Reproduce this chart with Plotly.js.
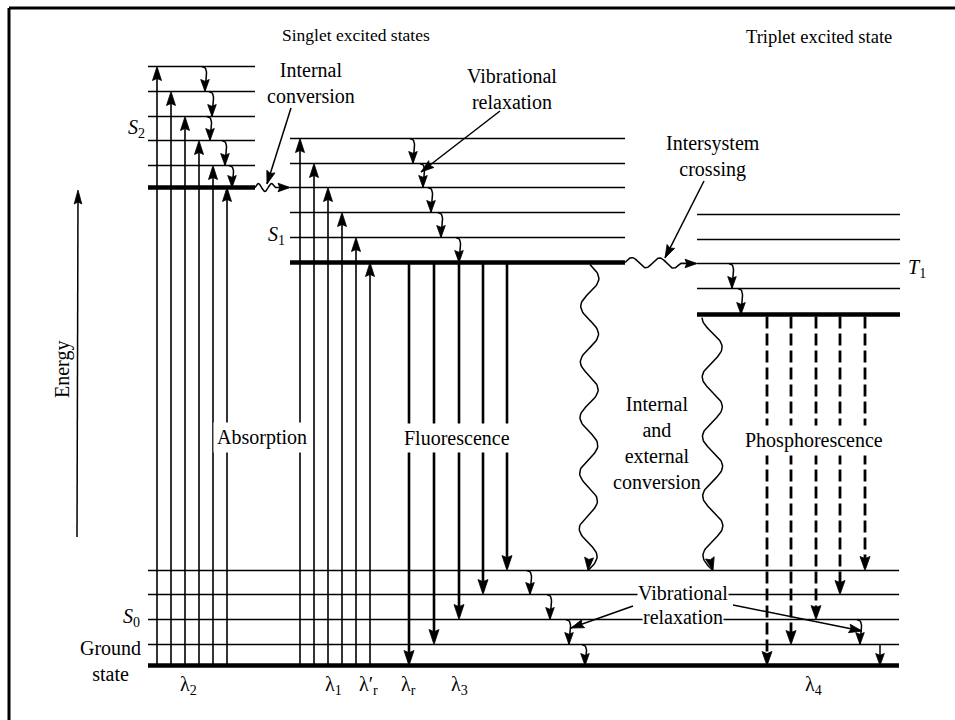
<!DOCTYPE html>
<html><head><meta charset="utf-8">
<script src="https://cdn.plot.ly/plotly-3.0.1.min.js"></script>
<style>html,body{margin:0;padding:0;background:#fff}#chart{width:955px;height:720px}</style>
</head><body><div id="chart"></div>
<script>
// ---------- DATA (relative energy, ground state = 0; x = horizontal position) ----------
const s0Levels = [0, 21, 46, 71, 95];
const s1Levels = [403, 428, 453, 478, 502, 527];
const s2Levels = [478, 500, 525, 549, 574, 599];
const t1Levels = [351, 377, 402, 426, 451];
const s0Span = [148, 899];
const s1Span = [290, 625];
const s2Span = [148, 255];
const t1Span = [697, 900];

// absorption (ground -> excited)
const absS2X  = [157, 171, 185, 199, 213, 227];
const absS2To = [599, 574, 549, 525, 500, 478];
const absS1X  = [300, 314, 328, 342, 356, 370];
const absS1To = [527, 502, 478, 453, 428, 403];
// fluorescence (S1 lowest -> S0 levels)
const fluoX  = [409, 434, 459, 483, 507];
const fluoTo = [0, 21, 46, 71, 95];
// phosphorescence (T1 lowest -> S0 levels)
const phosX  = [767, 791, 816, 840, 865];
const phosTo = [0, 21, 46, 71, 95];
// vibrational relaxation steps
const vrX    = [205, 212, 210, 225, 232, 413, 423, 431, 441, 459, 732, 741, 530, 550, 569, 585, 860];
const vrFrom = [599, 574, 549, 525, 500, 527, 502, 478, 453, 428, 402, 377, 95, 71, 46, 21, 46];
const vrTo   = [574, 549, 525, 500, 478, 502, 478, 453, 428, 403, 377, 351, 71, 46, 21, 0, 21];
const vrStraightX = [880];
const vrStraightFrom = [21];
const vrStraightTo = [0];

// labels
const lambdaLabels = ['λ<sub>2</sub>', 'λ<sub>1</sub>', 'λ′<sub>r</sub>', 'λ<sub>r</sub>', 'λ<sub>3</sub>', 'λ<sub>4</sub>'];
const lambdaX = [188, 333, 368, 408, 459, 813];

// ---------- helpers ----------
const FONT = 'Liberation Serif, Times New Roman, serif';
function pushSeg(arr, pts){ pts.forEach(p=>{arr.x.push(p[0]); arr.y.push(p[1]);}); arr.x.push(null); arr.y.push(null); }
function head(arr, tip, from, len, half){
  let dx = tip[0]-from[0], dy = tip[1]-from[1];
  const L = Math.hypot(dx,dy); dx/=L; dy/=L;
  const px = -dy, py = dx;
  const bx = tip[0]-dx*len, by = tip[1]-dy*len;
  const nx = tip[0]-dx*len*0.85, ny = tip[1]-dy*len*0.85;
  pushSeg(arr, [tip, [bx+px*half, by+py*half], [nx,ny], [bx-px*half, by-py*half], tip]);
}
function wave(p0, p1, amp, periods, waveFrac, phaseCos){
  const pts = []; const dx = p1[0]-p0[0], dy = p1[1]-p0[1];
  const L = Math.hypot(dx,dy); const ux = dx/L, uy = dy/L; const px = -uy, py = ux;
  const N = 200;
  for(let i=0;i<=N;i++){
    const t = i/N;
    let off = 0;
    if(t <= waveFrac){
      const s = t/waveFrac;
      off = phaseCos ? -amp*Math.cos(2*Math.PI*periods*s) : amp*Math.sin(2*Math.PI*periods*s);
    }
    pts.push([p0[0]+dx*t+px*off, p0[1]+dy*t+py*off]);
  }
  return pts;
}
function hook(x, top, bottom){
  const P0=[x-3, top], P1=[x+4, top-1], P2=[x+1, top-9], P3=[x, bottom];
  const pts=[];
  for(let i=0;i<=16;i++){
    const t=i/16, a=(1-t)**3, b=3*(1-t)**2*t, c=3*(1-t)*t*t, d=t**3;
    pts.push([a*P0[0]+b*P1[0]+c*P2[0]+d*P3[0], a*P0[1]+b*P1[1]+c*P2[1]+d*P3[1]]);
  }
  return pts;
}

// ---------- build traces ----------
const thin = {x:[],y:[]}, thick = {x:[],y:[]};
function levels(arr, span){
  arr.forEach((e,i)=>{ pushSeg(i===0?thick:thin, [[span[0],e],[span[1],e]]); });
}
levels(s0Levels, s0Span); levels(s1Levels, s1Span); levels(s2Levels, s2Span); levels(t1Levels, t1Span);

const absL = {x:[],y:[]}, heads = {x:[],y:[]}, fluoL = {x:[],y:[]}, phosL = {x:[],y:[]}, curves = {x:[],y:[]};
absS2X.forEach((x,i)=>{ pushSeg(absL, [[x, s0Levels[0]],[x, absS2To[i]-4]]); head(heads, [x, absS2To[i]], [x, 0], 14, 4.5); });
absS1X.forEach((x,i)=>{ pushSeg(absL, [[x, s0Levels[0]],[x, absS1To[i]-4]]); head(heads, [x, absS1To[i]], [x, 0], 14, 4.5); });
fluoX.forEach((x,i)=>{ pushSeg(fluoL, [[x, s1Levels[0]],[x, fluoTo[i]+4]]); head(heads, [x, fluoTo[i]], [x, 400], 15, 5); });
phosX.forEach((x,i)=>{ pushSeg(phosL, [[x, t1Levels[0]-2],[x, phosTo[i]+4]]); head(heads, [x, phosTo[i]], [x, 300], 14, 5); });
vrX.forEach((x,i)=>{ const p = hook(x, vrFrom[i], vrTo[i]); pushSeg(curves, p); head(heads, [x, vrTo[i]], [x, vrTo[i]+10], 12, 4.3); });
vrStraightX.forEach((x,i)=>{ pushSeg(curves, [[x, vrStraightFrom[i]],[x, vrStraightTo[i]]]); head(heads, [x, vrStraightTo[i]], [x, vrStraightTo[i]+10], 12, 4.3); });

// wavy non-radiative transitions
let w;
w = wave([255, s2Levels[0]], [289, s1Levels[3]], 4, 1.5, 0.58, false); pushSeg(curves, w); head(heads, [290, s1Levels[3]], [270, s1Levels[3]], 12, 4.3);
w = wave([625, s1Levels[0]], [696, t1Levels[2]], 5, 2, 0.78, false); pushSeg(curves, w); head(heads, [697, t1Levels[2]], [680, t1Levels[2]], 12, 4.3);
w = wave([590, s1Levels[0]-2], [588, s0Levels[4]], 9, 5.5, 1, false); pushSeg(curves, w); head(heads, [588, s0Levels[4]], [589, s0Levels[4]+12], 13, 4.5);
w = wave([712, t1Levels[0]-3], [713, s0Levels[4]], 10, 4.25, 1, true); pushSeg(curves, w); head(heads, [713, s0Levels[4]], [710, s0Levels[4]+12], 13, 4.5);

// pointer lines from labels
const pointers = [
  [[291, 557.5], [267, 481.5]],
  [[500, 554.5], [421, 493.5]],
  [[704, 484.5], [665, 407.5]],
  [[633, 59.5], [571, 37.5]],
  [[733, 60.5], [862, 34.5]]
];
pointers.forEach(p=>{ pushSeg(curves, p); head(heads, p[1], p[0], 13, 4.3); });

// energy axis arrow
pushSeg(curves, [[77, 128.5],[78, 470]]); head(heads, [78, 475.5], [78, 128.5], 14, 3.8);

const base = {type:'scatter', mode:'lines', hoverinfo:'skip', showlegend:false};
const data = [
  Object.assign({}, base, {x:thin.x, y:thin.y, line:{color:'#000', width:1.6}}),
  Object.assign({}, base, {x:thick.x, y:thick.y, line:{color:'#000', width:4.6}}),
  Object.assign({}, base, {x:absL.x, y:absL.y, line:{color:'#000', width:1.6}}),
  Object.assign({}, base, {x:fluoL.x, y:fluoL.y, line:{color:'#000', width:2.6}}),
  Object.assign({}, base, {x:phosL.x, y:phosL.y, line:{color:'#000', width:2.8, dash:'12px,5px'}}),
  Object.assign({}, base, {x:curves.x, y:curves.y, line:{color:'#000', width:1.5}}),
  Object.assign({}, base, {x:heads.x, y:heads.y, fill:'toself', fillcolor:'#000', line:{color:'#000', width:0.8}})
];

function ann(text, x, y, opts){
  return Object.assign({text, x, y, xref:'x', yref:'y', showarrow:false, font:{family:FONT, size:20, color:'#000'}, xanchor:'center', yanchor:'middle'}, opts||{});
}
const annotations = [
  ann('Singlet excited states', 356, 630.5, {font:{family:FONT, size:17.5, color:'#000'}}),
  ann('Triplet excited state', 819, 628.5, {font:{family:FONT, size:18.5, color:'#000'}}),
  ann('Internal<br>conversion', 311, 583),
  ann('Vibrational<br>relaxation', 512, 576.5),
  ann('Intersystem<br>crossing', 713, 509),
  ann('Absorption', 262, 228.5, {bgcolor:'#fff', borderpad:3}),
  ann('Fluorescence', 457, 227.5, {bgcolor:'#fff', borderpad:3}),
  ann('Internal<br>and<br>external<br>conversion', 657, 223),
  ann('Phosphorescence', 814, 225.5, {bgcolor:'#fff', borderpad:3}),
  ann('Vibrational', 683, 72.5, {bgcolor:'#fff', borderpad:0}),
  ann('relaxation', 683, 48.5, {bgcolor:'#fff', borderpad:0}),
  ann('<i>S</i><sub>2</sub>', 136, 537.5),
  ann('<i>S</i><sub>1</sub>', 276, 430.5),
  ann('<i>T</i><sub>1</sub>', 917, 397.5),
  ann('<i>S</i><sub>0</sub>', 131, 48.5),
  ann('Ground<br>state', 110, 4.5),
  ann('Energy', 62, 295.5, {textangle:-90})
];
lambdaLabels.forEach((t,i)=>annotations.push(ann(t, lambdaX[i], -20)));

const layout = {
  width:955, height:720, margin:{l:0,r:0,t:0,b:0},
  paper_bgcolor:'#fff', plot_bgcolor:'#fff', showlegend:false,
  xaxis:{range:[0,955], visible:false, fixedrange:true},
  yaxis:{range:[-54.5,665.5], visible:false, fixedrange:true},
  shapes:[
    {type:'line', xref:'paper', yref:'paper', x0:9/955, x1:9/955, y0:0, y1:1-8/720, line:{color:'#000', width:3}},
    {type:'line', xref:'paper', yref:'paper', x0:9/955, x1:1, y0:1-8/720, y1:1-8/720, line:{color:'#000', width:3}}
  ],
  annotations
};
Plotly.newPlot('chart', data, layout, {displayModeBar:false, staticPlot:true});
</script></body></html>
